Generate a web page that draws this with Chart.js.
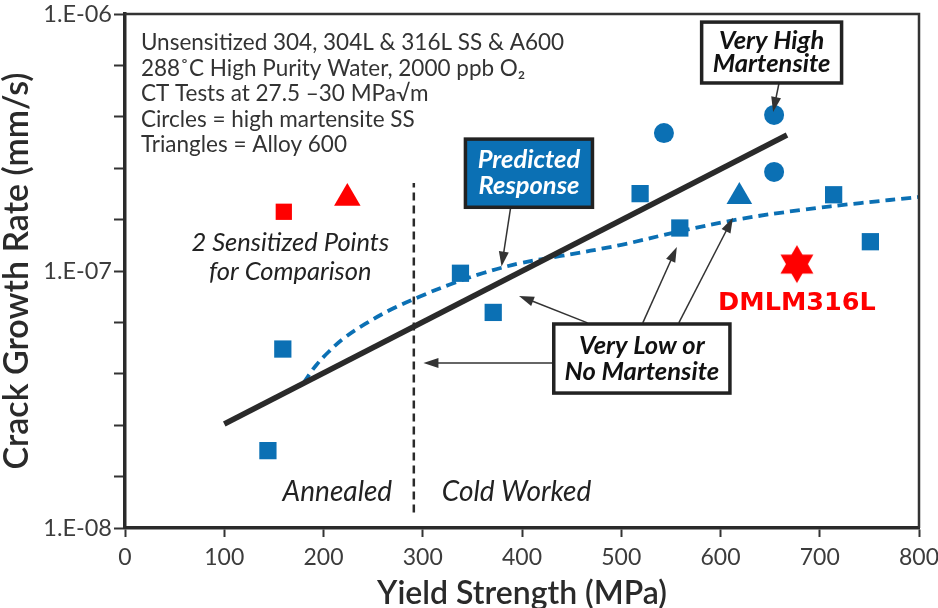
<!DOCTYPE html>
<html>
<head>
<meta charset="utf-8">
<script src="https://cdn.jsdelivr.net/npm/chart.js@4.4.1/dist/chart.umd.min.js"></script>
<style>
  html, body { margin: 0; padding: 0; background: #fff; overflow: hidden; }
  #wrap { width: 938px; height: 608px; overflow: hidden; }
  canvas { display: block; }
</style>
</head>
<body>
<div id="wrap"><canvas id="cgr" width="938" height="616"></canvas></div>
<script>
// Crack growth rate vs yield strength
const squareX = [144, 159, 338, 371, 519, 559, 714, 751];
const squareY = [2.0e-8, 4.97e-8, 9.8e-8, 6.9e-8, 2.0e-7, 1.47e-7, 1.98e-7, 1.30e-7];
const circleX = [543, 654, 654];
const circleY = [3.44e-7, 4.05e-7, 2.43e-7];
const alloyX = [619];
const alloyY = [1.946e-7];
const sensSquareX = [160];
const sensSquareY = [1.70e-7];
const sensTriX = [224];
const sensTriY = [1.92e-7];
const dmlmX = [677];
const dmlmY = [1.064e-7];
const trendX = [100, 667];
const trendY = [2.54e-8, 3.38e-7];
const predX = [180, 192, 205, 222, 242, 267, 296, 326, 361, 399, 439, 499, 560, 620, 681, 741, 800];
const predY = [3.67e-8, 4.27e-8, 4.84e-8, 5.53e-8, 6.22e-8, 7.05e-8, 7.92e-8, 8.82e-8, 9.82e-8, 1.074e-7, 1.144e-7, 1.262e-7, 1.43e-7, 1.593e-7, 1.727e-7, 1.838e-7, 1.94e-7];
const dividerX = [291, 291];
const dividerY = [1.15e-8, 2.2e-7];
const xTicks = [0, 100, 200, 300, 400, 500, 600, 700, 800];
const yDecades = [-8, -7, -6];

const BLUE = '#0b70b4';
const RED = '#ff0000';
const INK = '#2a2a2a';
const FONT = 'Lato, "Open Sans", sans-serif';

const pts = (xs, ys) => xs.map((v, i) => ({ x: v, y: ys[i] }));

// six-pointed star marker
function hexagram(r, color) {
  const c = document.createElement('canvas');
  c.width = c.height = Math.ceil(r * 2 + 2);
  const g = c.getContext('2d');
  const cx = c.width / 2, cy = c.height / 2;
  g.fillStyle = color;
  [0, Math.PI].forEach(rot => {
    g.beginPath();
    for (let k = 0; k < 3; k++) {
      const a = rot + k * 2 * Math.PI / 3;
      g.lineTo(cx + r * Math.sin(a), cy - r * Math.cos(a));
    }
    g.closePath();
    g.fill();
  });
  return c;
}

// annotation layout (data units)
const infoLines = [
  'Unsensitized 304, 304L & 316L SS & A600',
  '288˚C High Purity Water, 2000 ppb O₂',
  'CT Tests at 27.5 –30 MPa√m',
  'Circles = high martensite SS',
  'Triangles = Alloy 600'
];
const notes = [
  { x: 166.5, y: 1.285e-7, text: '2 Sensitized Points', size: 25.5 },
  { x: 166.5, y: 9.9e-8, text: 'for Comparison', size: 25.5 },
  { x: 214, y: 1.38e-8, text: 'Annealed', size: 28 },
  { x: 394.5, y: 1.38e-8, text: 'Cold Worked', size: 28 }
];
const boxes = [
  { x0: 343, x1: 471, y0: 3.26e-7, y1: 1.77e-7, fill: BLUE, color: '#fff', lines: ['Predicted', 'Response'], gap: 13 },
  { x0: 581, x1: 722, y0: 9.3e-7, y1: 5.39e-7, fill: '#fff', color: '#111', lines: ['Very High', 'Martensite'], gap: 11.5 },
  { x0: 432, x1: 609.5, y0: 6.22e-8, y1: 3.35e-8, fill: '#fff', color: '#111', lines: ['Very Low or', 'No Martensite'], gap: 13 }
];
const arrows = [
  [[659, 5.39e-7], [653, 4.16e-7]],
  [[388.5, 1.76e-7], [379.4, 1.04e-7]],
  [[466, 6.28e-8], [397, 8.0e-8]],
  [[521.7, 6.28e-8], [556, 1.24e-7]],
  [[558, 6.28e-8], [612.5, 1.61e-7]],
  [[432, 4.39e-8], [300.7, 4.39e-8]]
];

const annotate = {
  id: 'annotate',
  afterDatasetsDraw(chart) {
    const { ctx, chartArea: a, scales: { x, y } } = chart;
    const X = v => x.getPixelForValue(v);
    const Y = v => y.getPixelForValue(v);
    ctx.save();

    // top / right frame
    ctx.strokeStyle = '#333';
    ctx.lineWidth = 2.5;
    ctx.beginPath();
    ctx.moveTo(a.left, a.top);
    ctx.lineTo(a.right, a.top);
    ctx.lineTo(a.right, a.bottom);
    ctx.stroke();

    // info block
    ctx.fillStyle = '#333';
    ctx.font = '22.5px ' + FONT;
    ctx.textAlign = 'left';
    ctx.textBaseline = 'alphabetic';
    infoLines.forEach((t, i) => ctx.fillText(t, X(16), Y(7.24e-7) + i * 25.6));

    // italic labels
    ctx.textAlign = 'center';
    ctx.textBaseline = 'middle';
    ctx.fillStyle = '#222';
    notes.forEach(n => {
      ctx.font = 'italic ' + n.size + 'px ' + FONT;
      ctx.fillText(n.text, X(n.x), Y(n.y));
    });

    // DMLM316L label
    ctx.fillStyle = RED;
    ctx.font = 'bold 25.5px "DejaVu Sans", sans-serif';
    ctx.fillText('DMLM316L', X(677), Y(7.5e-8));

    // arrows
    ctx.strokeStyle = '#333';
    ctx.fillStyle = '#333';
    ctx.lineWidth = 1.5;
    arrows.forEach(([p, q]) => {
      const x1 = X(p[0]), y1 = Y(p[1]), x2 = X(q[0]), y2 = Y(q[1]);
      const ang = Math.atan2(y2 - y1, x2 - x1);
      const L = 15, W = 5;
      ctx.beginPath();
      ctx.moveTo(x1, y1);
      ctx.lineTo(x2 - Math.cos(ang) * L * 0.8, y2 - Math.sin(ang) * L * 0.8);
      ctx.stroke();
      ctx.beginPath();
      ctx.moveTo(x2, y2);
      ctx.lineTo(x2 - Math.cos(ang) * L + Math.sin(ang) * W, y2 - Math.sin(ang) * L - Math.cos(ang) * W);
      ctx.lineTo(x2 - Math.cos(ang) * L - Math.sin(ang) * W, y2 - Math.sin(ang) * L + Math.cos(ang) * W);
      ctx.closePath();
      ctx.fill();
    });

    // boxes
    boxes.forEach(b => {
      const l = X(b.x0), r = X(b.x1), t = Y(b.y0), btm = Y(b.y1);
      ctx.fillStyle = b.fill;
      ctx.fillRect(l, t, r - l, btm - t);
      ctx.strokeStyle = '#222';
      ctx.lineWidth = 3.5;
      ctx.strokeRect(l, t, r - l, btm - t);
      ctx.fillStyle = b.color;
      ctx.font = 'italic bold 25.5px ' + FONT;
      ctx.textAlign = 'center';
      ctx.textBaseline = 'middle';
      const cx = (l + r) / 2, cy = (t + btm) / 2;
      ctx.fillText(b.lines[0], cx, cy - b.gap);
      ctx.fillText(b.lines[1], cx, cy + b.gap);
    });

    ctx.restore();
  }
};

new Chart(document.getElementById('cgr'), {
  type: 'scatter',
  data: {
    datasets: [
      { label: 'Sensitized SS', data: pts(sensSquareX, sensSquareY), pointStyle: 'rect', pointRadius: 11.5, backgroundColor: RED, borderWidth: 0, order: 0 },
      { label: 'Sensitized A600', data: pts(sensTriX, sensTriY), pointStyle: 'triangle', pointRadius: 15.3, backgroundColor: RED, borderWidth: 0, order: 0 },
      { label: 'Low martensite SS', data: pts(squareX, squareY), pointStyle: 'rect', pointRadius: 12.2, backgroundColor: BLUE, borderWidth: 0, order: 0 },
      { label: 'High martensite SS', data: pts(circleX, circleY), pointStyle: 'circle', pointRadius: 10, backgroundColor: BLUE, borderWidth: 0, order: 0 },
      { label: 'Alloy 600', data: pts(alloyX, alloyY), pointStyle: 'triangle', pointRadius: 14.8, backgroundColor: BLUE, borderWidth: 0, order: 0 },
      { label: 'DMLM316L', data: pts(dmlmX, dmlmY), pointStyle: hexagram(19, RED), pointRadius: 19, order: 0 },
      { label: 'Trend', data: pts(trendX, trendY), showLine: true, borderColor: INK, borderWidth: 5.5, pointRadius: 0, order: 1 },
      { label: 'Predicted Response', data: pts(predX, predY), showLine: true, borderColor: BLUE, borderWidth: 3.8, borderDash: [10, 6], tension: 0.4, pointRadius: 0, order: 2 },
      { label: 'Annealed / Cold Worked', data: pts(dividerX, dividerY), showLine: true, borderColor: INK, borderWidth: 2.5, borderDash: [8, 5], pointRadius: 0, order: 3 }
    ]
  },
  options: {
    responsive: false,
    animation: false,
    events: [],
    layout: { autoPadding: false, padding: { top: 14, right: 19, left: 0, bottom: 0 } },
    plugins: { legend: { display: false }, tooltip: { enabled: false } },
    scales: {
      x: {
        type: 'linear',
        min: 0,
        max: 800,
        afterFit: s => { s.height = 88; s.paddingLeft = 0; s.paddingRight = 0; },
        afterBuildTicks: s => { s.ticks = xTicks.map(v => ({ value: v })); },
        grid: { drawOnChartArea: false, drawTicks: true, tickLength: 9, tickWidth: 2, tickColor: '#333' },
        border: { color: INK, width: 3.5 },
        ticks: { color: '#3c3c3c', font: { family: FONT, size: 23 }, padding: 7, maxRotation: 0 },
        title: { display: true, text: 'Yield Strength (MPa)', color: INK, font: { family: FONT, size: 32, weight: '600' }, padding: { top: 0, bottom: 3 } }
      },
      y: {
        type: 'logarithmic',
        min: 1e-8,
        max: 1e-6,
        afterFit: s => { s.width = 125; s.paddingTop = 0; s.paddingBottom = 0; },
        afterBuildTicks: s => {
          const ticks = [];
          for (let k = 0; k <= 10; k++) ticks.push({ value: Math.pow(10, yDecades[0] + k * 0.2) });
          s.ticks = ticks;
        },
        grid: { drawOnChartArea: false, drawTicks: true, tickLength: 11, tickWidth: 2, tickColor: '#333' },
        border: { color: INK, width: 3.5 },
        ticks: {
          autoSkip: false,
          color: '#3c3c3c',
          font: { family: FONT, size: 23.5 },
          padding: 2,
          callback: v => {
            const e = Math.round(Math.log10(v) * 5) / 5;
            return yDecades.includes(e) ? '1.E-0' + Math.abs(e) : '';
          }
        },
        title: { display: true, text: 'Crack Growth Rate (mm/s)', color: INK, font: { family: FONT, size: 34, weight: '600', lineHeight: 1 }, padding: { top: 0, bottom: 0 } }
      }
    }
  },
  plugins: [annotate]
});
</script>
</body>
</html>
